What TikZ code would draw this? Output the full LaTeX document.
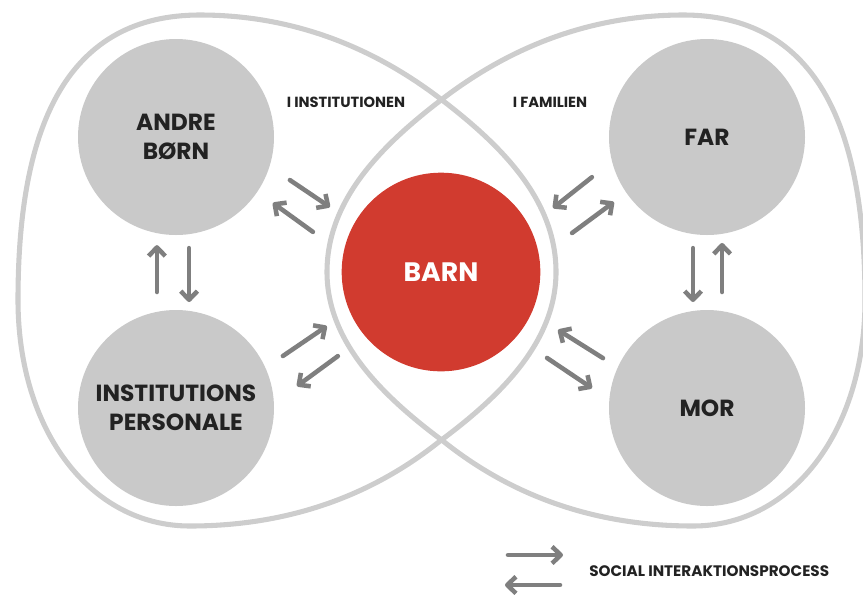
\documentclass[tikz,border=0pt]{standalone}
\usepackage{fontspec}
\setmainfont{Poppins}
\usetikzlibrary{arrows.meta,calc}
\definecolor{ringgray}{HTML}{CDCDCD}
\definecolor{circgray}{HTML}{C9C9C9}
\definecolor{flowgray}{HTML}{7F7F7F}
\definecolor{barnred}{HTML}{D13B2F}
\definecolor{textdark}{HTML}{222222}
\begin{document}
\begin{tikzpicture}[x=0.75pt, y=-0.75pt,
	ring/.style={draw=ringgray, line width=3.8pt},
	person/.style={circle, fill=circgray, minimum size=147pt, inner sep=0pt, align=center, text=textdark, font=\bfseries\fontsize{17.5}{21.5}\selectfont},
	flow/.style={draw=flowgray, line width=3.4pt, line cap=round, -{Straight Barb[length=6.5pt, width=12.5pt, line join=round]}},
	small/.style={text=textdark, inner sep=0pt, font=\bfseries\fontsize{11}{13}\selectfont}]
	\useasboundingbox (0,0) rectangle (863,594);
	% the two loops, the right one is the left one mirrored
	\foreach \s/\o in {1/0, -1/883}
	{
		\draw[ring, shift={(\o,0)}, xscale=\s] (200,15) .. controls (310,15) and (390,60) .. (442,100)
			.. controls (502,146) and (556,200) .. (556,272)
			.. controls (556,341) and (502,395) .. (440,441)
			.. controls (390,481) and (310,526) .. (190,526)
			.. controls (90,526) and (18,430) .. (18,300)
			.. controls (18,120) and (70,15) .. cycle;
	}
	\node[person] (andre) at (176,137) {ANDRE\\BØRN};
	\node[person] (personale) at (176,408) {INSTITUTIONS\\PERSONALE};
	\node[person] (far) at (707,137) {FAR};
	\node[person] (mor) at (707,408) {MOR};
	\node[person, fill=barnred, text=white, minimum size=149pt, font=\bfseries\fontsize{20}{24}\selectfont] (barn) at (441,272) {BARN};
	\node[small] (inst) at (346,102) {I INSTITUTIONEN};
	\node[small] (fam) at (550,102) {I FAMILIEN};
	\node[small, anchor=west, font=\bfseries\fontsize{11.4}{13}\selectfont] (legend) at (589,571) {SOCIAL INTERAKTIONSPROCESS};
	% interaction arrows, placed along the line between two nodes
	\foreach \a/\b/\ts/\ns/\te/\ne in {andre/barn/0.407/10/0.568/5.6, andre/barn/0.555/-16.8/0.391/-11.1,
		far/barn/0.405/-12.2/0.568/-4.8, far/barn/0.549/18.4/0.377/11.9,
		personale/barn/0.399/-1.9/0.576/3, personale/barn/0.563/-20.8/0.395/-26.8,
		mor/barn/0.386/2.2/0.563/-1.3, mor/barn/0.553/21.2/0.373/26,
		andre/personale/0.572/-14.3/0.399/-14.3, andre/personale/0.41/9.8/0.609/9.8,
		far/mor/0.41/-10.5/0.609/-10.5, far/mor/0.572/11.3/0.391/11.3}
	{
		\draw[flow] ($(\a)!\ts!(\b)!\ns pt!90:(\b)$) -- ($(\a)!\te!(\b)!\ne pt!90:(\b)$);
	}
	% legend
	\coordinate (lgA) at (508,555);
	\coordinate (lgB) at (563,555);
	\coordinate (lgC) at (560,585);
	\coordinate (lgD) at (505,585);
	\draw[flow] (lgA) -- (lgB);
	\draw[flow] (lgC) -- (lgD);
\end{tikzpicture}
\end{document}
